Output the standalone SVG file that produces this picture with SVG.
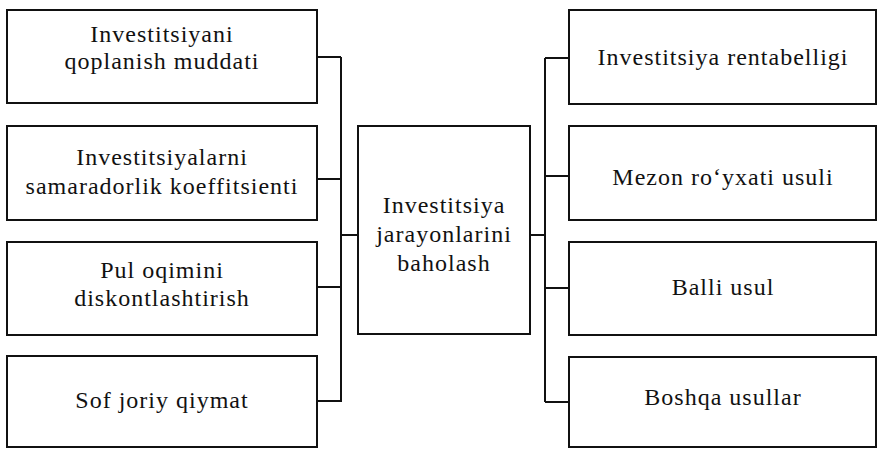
<svg xmlns="http://www.w3.org/2000/svg" width="879" height="449" viewBox="0 0 879 449">
<style>
.box{fill:#fff;stroke:#111;stroke-width:2}
.ln{stroke:#111;stroke-width:2;fill:none}
.t{font-family:'Liberation Serif','DejaVu Serif',serif;font-size:24px;fill:#111;text-anchor:middle;letter-spacing:1px}
</style>
<rect width="879" height="449" fill="#fff"/>
<g id="connectors">
<path class="ln" d="M341 57V402"/>
<path class="ln" d="M317 57H341"/>
<path class="ln" d="M317 179H341"/>
<path class="ln" d="M317 287H341"/>
<path class="ln" d="M317 401H341"/>
<path class="ln" d="M341 235H358"/>
<path class="ln" d="M545 58V402"/>
<path class="ln" d="M530 235H545"/>
<path class="ln" d="M545 58H569"/>
<path class="ln" d="M545 176H569"/>
<path class="ln" d="M545 288H569"/>
<path class="ln" d="M545 402H569"/>
</g>
<g id="l1"><rect class="box" x="7" y="10" width="310" height="93"/><text class="t" x="162" y="42">Investitsiyani</text><text class="t" x="162" y="69">qoplanish muddati</text></g>
<g id="l2"><rect class="box" x="7" y="126" width="310" height="94"/><text class="t" x="162" y="165">Investitsiyalarni</text><text class="t" x="162" y="194">samaradorlik koeffitsienti</text></g>
<g id="l3"><rect class="box" x="7" y="242" width="310" height="93"/><text class="t" x="162" y="278">Pul oqimini</text><text class="t" x="162" y="306">diskontlashtirish</text></g>
<g id="l4"><rect class="box" x="7" y="356" width="310" height="91"/><text class="t" x="162" y="408">Sof joriy qiymat</text></g>
<g id="center"><rect class="box" x="358" y="126" width="172" height="208"/><text class="t" x="444" y="213">Investitsiya</text><text class="t" x="444" y="242">jarayonlarini</text><text class="t" x="444" y="271">baholash</text></g>
<g id="r1"><rect class="box" x="569" y="10" width="307" height="94"/><text class="t" x="723" y="65">Investitsiya rentabelligi</text></g>
<g id="r2"><rect class="box" x="569" y="126" width="307" height="94"/><text class="t" x="723" y="185">Mezon ro‘yxati usuli</text></g>
<g id="r3"><rect class="box" x="569" y="242" width="307" height="93"/><text class="t" x="723" y="295">Balli usul</text></g>
<g id="r4"><rect class="box" x="569" y="357" width="307" height="90"/><text class="t" x="723" y="405">Boshqa usullar</text></g>
</svg>
